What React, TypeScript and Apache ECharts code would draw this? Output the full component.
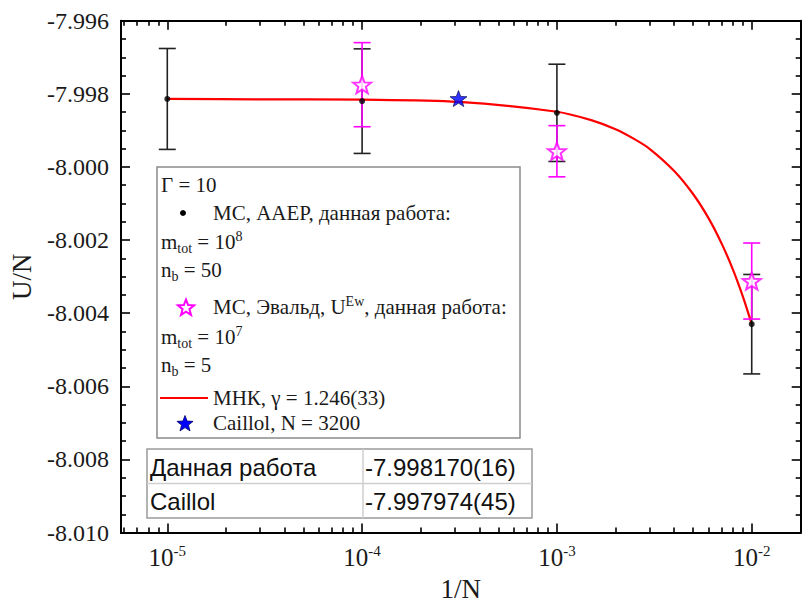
import React, { useEffect, useRef } from 'react';
import * as echarts from 'echarts';

// ---- axis ticks ----
const xMajorExponents = [-5, -4, -3, -2];
const xMinorMultipliers = [2, 3, 4, 5, 6, 7, 8, 9];
const xMinorDecades = [-6, -5, -4, -3, -2];
const yMin = -8.010;
const yMax = -7.996;
const yStep = 0.002;
const xLogMin = -5.2376;
const xLogMax = -1.7486;

// ---- data ----
const aaepInvN = [1e-5, 1e-4, 1e-3, 1e-2];
const aaepU = [-7.99814, -7.9982, -7.99852, -8.0043];
const aaepErr = [0.00138, 0.00143, 0.00133, 0.00136];

const ewaldInvN = [1e-4, 1e-3, 1e-2];
const ewaldU = [-7.99775, -7.99957, -8.00312];
const ewaldErr = [0.00115, 0.0007, 0.00104];

const caillolInvN = [1 / 3200];
const caillolU = [-7.99813];

const fitInvN = [1e-5, 3e-5, 1e-4, 3.125e-4, 1e-3, 1.5e-3, 2e-3, 2.5e-3, 3e-3, 4e-3, 5e-3, 6e-3, 7e-3, 8e-3, 9e-3, 1e-2];
const fitU = [-7.99814, -7.99815, -7.99816, -7.99822, -7.99849, -7.99872, -7.99897, -7.99924, -7.99951, -8.00011, -8.00074, -8.0014, -8.00209, -8.0028, -8.00354, -8.0043];

const tableLabels = ['Данная работа', 'Caillol'];
const tableValues = ['-7.998170(16)', '-7.997974(45)'];

const SERIF = 'Liberation Serif, serif';
const SANS = 'Liberation Sans, sans-serif';
const TXT = '#1a1a1a';

function starPath(R: number, r: number) {
  const pts: string[] = [];
  for (let i = 0; i < 10; i++) {
    const a = (-90 + i * 36) * Math.PI / 180;
    const rr = i % 2 === 0 ? R : r;
    pts.push(`${(rr * Math.cos(a)).toFixed(3)},${(rr * Math.sin(a)).toFixed(3)}`);
  }
  return 'M' + pts.join(' L') + ' Z';
}
function starPoints(cx: number, cy: number, R: number, r: number) {
  const pts: number[][] = [];
  for (let i = 0; i < 10; i++) {
    const a = (-90 + i * 36) * Math.PI / 180;
    const rr = i % 2 === 0 ? R : r;
    pts.push([cx + rr * Math.cos(a), cy + rr * Math.sin(a)]);
  }
  return pts;
}

const STAR = 'path://' + starPath(10, 4.2);

function errBarSeries(name: string, xs: number[], ys: number[], es: number[], color: string, z: number) {
  return {
    name,
    type: 'custom',
    xAxisIndex: 0,
    yAxisIndex: 0,
    z,
    data: xs.map((x, i) => [Math.log10(x), ys[i] - es[i], ys[i] + es[i]]),
    encode: { x: 0, y: [1, 2] },
    renderItem: (params: any, api: any) => {
      const x = api.value(0);
      const lo = api.coord([x, api.value(1)]);
      const hi = api.coord([x, api.value(2)]);
      const w = 8.5;
      const st = { stroke: color, lineWidth: 1.6 };
      return {
        type: 'group',
        children: [
          { type: 'line', shape: { x1: hi[0], y1: hi[1], x2: lo[0], y2: lo[1] }, style: st },
          { type: 'line', shape: { x1: hi[0] - w, y1: hi[1], x2: hi[0] + w, y2: hi[1] }, style: st },
          { type: 'line', shape: { x1: lo[0] - w, y1: lo[1], x2: lo[0] + w, y2: lo[1] }, style: st },
        ],
      };
    },
  };
}

export default function App() {
  const ref = useRef<HTMLDivElement>(null);
  useEffect(() => {
    if (!ref.current) return;
    const chart = echarts.init(ref.current, null, { renderer: 'svg' });

    const majorX = xMajorExponents.slice();
    const minorX: number[] = [];
    xMinorDecades.forEach((d) => xMinorMultipliers.forEach((m) => minorX.push(Math.log10(m) + d)));

    const xBase = {
      type: 'value',
      min: xLogMin,
      max: xLogMax,
      splitLine: { show: false },
      axisLine: { show: true, onZero: false, lineStyle: { color: '#000', width: 2 } },
    };
    const xAxes = [
      {
        ...xBase,
        position: 'bottom',
        axisTick: { show: true, inside: true, length: 9, lineStyle: { color: '#000', width: 1.6 }, customValues: majorX },
        axisLabel: {
          show: true,
          customValues: majorX,
          margin: 11,
          fontFamily: SERIF,
          formatter: (v: number) => `{b|10}{s|${Math.round(v)}}`,
          rich: {
            b: { fontSize: 25, fontFamily: SERIF, color: TXT, lineHeight: 28, verticalAlign: 'middle' },
            s: { fontSize: 15, fontFamily: SERIF, color: TXT, lineHeight: 15, verticalAlign: 'top' },
          },
        },
        name: '1/N',
        nameLocation: 'middle',
        nameGap: 40,
        nameTextStyle: { fontSize: 27, fontFamily: SERIF, color: TXT },
      },
      {
        ...xBase,
        position: 'bottom',
        axisTick: { show: true, inside: true, length: 5, lineStyle: { color: '#000', width: 1.6 }, customValues: minorX },
        axisLabel: { show: false },
      },
      {
        ...xBase,
        position: 'top',
        axisTick: { show: true, inside: true, length: 9, lineStyle: { color: '#000', width: 1.6 }, customValues: majorX },
        axisLabel: { show: false },
      },
      {
        ...xBase,
        position: 'top',
        axisTick: { show: true, inside: true, length: 5, lineStyle: { color: '#000', width: 1.6 }, customValues: minorX },
        axisLabel: { show: false },
      },
    ];

    const yBase = {
      type: 'value',
      min: yMin,
      max: yMax,
      interval: yStep,
      splitLine: { show: false },
      axisLine: { show: true, onZero: false, lineStyle: { color: '#000', width: 2 } },
      axisTick: { show: true, inside: true, length: 9, lineStyle: { color: '#000', width: 1.6 } },
      minorTick: { show: true, splitNumber: 4, length: 5, lineStyle: { color: '#000', width: 1.6 } },
    };
    const yAxes = [
      {
        ...yBase,
        position: 'left',
        axisLabel: {
          show: true,
          margin: 12,
          fontSize: 24,
          fontFamily: SERIF,
          color: TXT,
          formatter: (v: number) => v.toFixed(3),
        },
        name: 'U/N',
        nameLocation: 'middle',
        nameGap: 86,
        nameRotate: 90,
        nameTextStyle: { fontSize: 27, fontFamily: SERIF, color: TXT },
      },
      { ...yBase, position: 'right', axisLabel: { show: false } },
    ];

    // legend box graphics
    const legX = 157, legY = 167, legW = 363, legH = 271;
    const tx = 161, itx = 213;
    const FS = 21;
    const nStyle = { fontSize: FS, fontFamily: SERIF, fill: TXT, lineHeight: 26, verticalAlign: 'middle' };
    const subSt = { fontSize: 14, fontFamily: SERIF, fill: TXT, lineHeight: 13, verticalAlign: 'bottom' };
    const supSt = { fontSize: 14, fontFamily: SERIF, fill: TXT, lineHeight: 13, verticalAlign: 'top' };
    const rich = { n: nStyle, sub: subSt, sup: supSt };
    const richText = (x: number, y: number, text: string) => ({
      type: 'text',
      x,
      y,
      style: { text, rich, fontSize: FS, fontFamily: SERIF, fill: TXT, align: 'left', verticalAlign: 'middle' },
    });

    const tabX = 147, tabY = 449, tabW = 385, rowH = 34.5, colX = 363;

    const graphic: any[] = [
      { type: 'rect', z: 100, shape: { x: legX, y: legY, width: legW, height: legH }, style: { fill: '#fff', stroke: '#8a8a8a', lineWidth: 1.5 } },
      richText(tx, 185, '{n|Γ = 10}'),
      { type: 'circle', z: 101, shape: { cx: 183, cy: 213, r: 3 }, style: { fill: '#000' } },
      richText(itx, 213, '{n|МС, ААЕР, данная работа:}'),
      richText(tx, 242, '{n|m}{sub|tot}{n| = 10}{sup|8}'),
      richText(tx, 270, '{n|n}{sub|b}{n| = 50}'),
      { type: 'polygon', z: 101, shape: { points: starPoints(186, 308, 8.5, 3.6) }, style: { fill: '#fff', stroke: '#ff00ff', lineWidth: 2 } },
      richText(itx, 307, '{n|МС, Эвальд, U}{sup|Ew}{n|, данная работа:}'),
      richText(tx, 337, '{n|m}{sub|tot}{n| = 10}{sup|7}'),
      richText(tx, 365, '{n|n}{sub|b}{n| = 5}'),
      { type: 'line', z: 101, shape: { x1: 160, y1: 398, x2: 208, y2: 398 }, style: { stroke: '#ff0000', lineWidth: 2 } },
      richText(itx, 398, '{n|МНК, γ = 1.246(33)}'),
      { type: 'polygon', z: 101, shape: { points: starPoints(185, 424, 8.5, 3.6) }, style: { fill: '#0000ff', stroke: '#000066', lineWidth: 0.8 } },
      richText(itx, 423, '{n|Caillol, N = 3200}'),
      // table
      { type: 'rect', z: 100, shape: { x: tabX, y: tabY, width: tabW, height: rowH * 2 }, style: { fill: '#fff', stroke: '#9a9a9a', lineWidth: 1.5 } },
      { type: 'line', z: 101, shape: { x1: tabX, y1: tabY + rowH, x2: tabX + tabW, y2: tabY + rowH }, style: { stroke: '#cfcfcf', lineWidth: 1.5 } },
      { type: 'line', z: 101, shape: { x1: colX, y1: tabY, x2: colX, y2: tabY + rowH * 2 }, style: { stroke: '#cfcfcf', lineWidth: 1.5 } },
    ];
    tableLabels.forEach((lab, i) => {
      graphic.push({
        type: 'text', z: 102, x: 150, y: tabY + rowH * i + rowH / 2 + 1,
        style: { text: lab, fontSize: 24, fontFamily: SANS, fill: '#111', align: 'left', verticalAlign: 'middle' },
      });
      graphic.push({
        type: 'text', z: 102, x: colX + 2, y: tabY + rowH * i + rowH / 2 + 1,
        style: { text: tableValues[i], fontSize: 24, fontFamily: SANS, fill: '#111', align: 'left', verticalAlign: 'middle' },
      });
    });
    graphic.forEach((g) => { if (g.z === undefined) g.z = 102; });

    chart.setOption({
      animation: false,
      backgroundColor: '#fff',
      textStyle: { fontFamily: SERIF },
      grid: { left: 120.7, right: 11.3, top: 20.7, bottom: 73.5, containLabel: false },
      xAxis: xAxes,
      yAxis: yAxes,
      graphic: { elements: graphic },
      series: [
        {
          name: 'МНК',
          type: 'line',
          xAxisIndex: 0,
          yAxisIndex: 0,
          z: 3,
          data: fitInvN.map((x, i) => [Math.log10(x), fitU[i]]),
          showSymbol: false,
          smooth: 0.3,
          lineStyle: { color: '#ff0000', width: 2.2 },
        },
        errBarSeries('AAEP err', aaepInvN, aaepU, aaepErr, '#222', 4),
        errBarSeries('Ewald err', ewaldInvN, ewaldU, ewaldErr, '#ff00ff', 5),
        {
          name: 'МС, ААЕР',
          type: 'scatter',
          xAxisIndex: 0,
          yAxisIndex: 0,
          z: 6,
          data: aaepInvN.map((x, i) => [Math.log10(x), aaepU[i]]),
          symbol: 'circle',
          symbolSize: 6,
          itemStyle: { color: '#000' },
        },
        {
          name: 'МС, Эвальд',
          type: 'scatter',
          xAxisIndex: 0,
          yAxisIndex: 0,
          z: 7,
          data: ewaldInvN.map((x, i) => [Math.log10(x), ewaldU[i]]),
          symbol: STAR,
          symbolSize: [18, 17],
          itemStyle: { color: '#fff', borderColor: '#ff00ff', borderWidth: 2 },
        },
        {
          name: 'Caillol',
          type: 'scatter',
          xAxisIndex: 0,
          yAxisIndex: 0,
          z: 8,
          data: caillolInvN.map((x, i) => [Math.log10(x), caillolU[i]]),
          symbol: STAR,
          symbolSize: [17, 16],
          itemStyle: { color: '#0000ff', borderColor: '#000044', borderWidth: 0.8 },
        },
      ],
    });
    return () => chart.dispose();
  }, []);
  return <div ref={ref} style={{ position: 'absolute', left: 0, top: 0, width: 812, height: 607 }} />;
}
